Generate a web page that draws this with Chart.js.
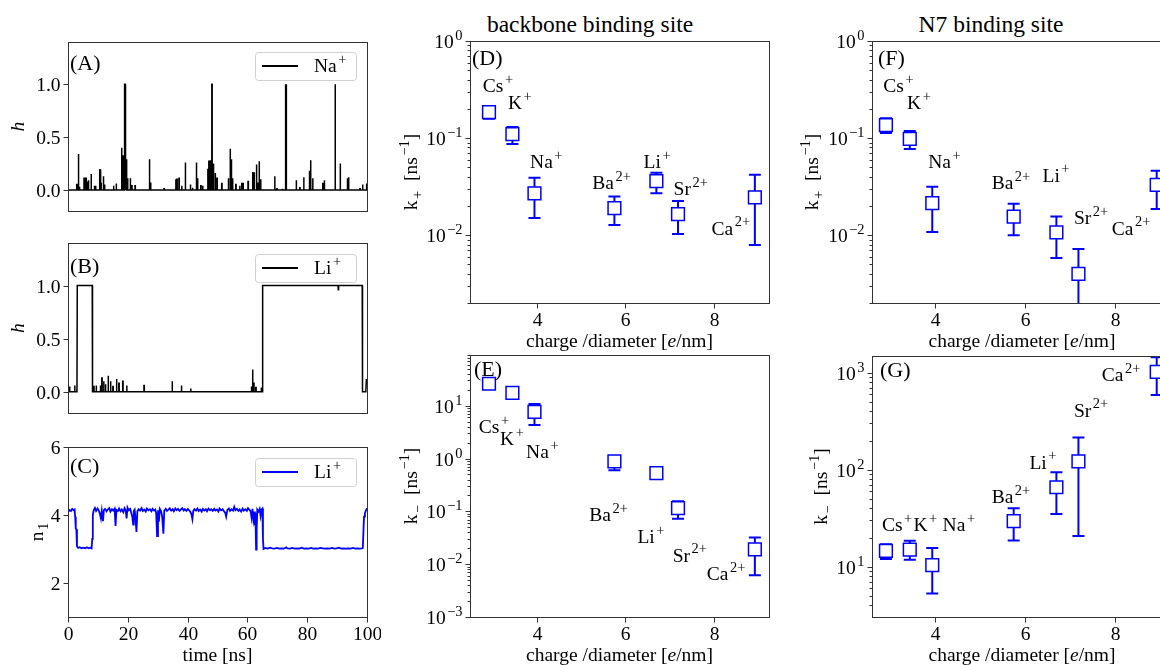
<!DOCTYPE html>
<html>
<head>
<meta charset="utf-8">
<title>ion binding kinetics</title>
<script src="https://cdn.jsdelivr.net/npm/chart.js@4.4.1/dist/chart.umd.min.js"></script>
<style>
  html, body { margin: 0; padding: 0; background: #fff; }
  body { position: relative; width: 1160px; height: 665px; overflow: hidden; }
  canvas { position: absolute; }
  .coltitle { position: absolute; transform: translate(-50%, -50%); font: 23.5px "Liberation Serif", "DejaVu Serif", serif; color: #000; white-space: nowrap; }
</style>
</head>
<body>
<div class="coltitle" style="left:590px;top:24px">backbone binding site</div>
<div class="coltitle" style="left:991px;top:24px">N7 binding site</div>
<script>
// ions, in the order they sit along the x axis
const ionNames = ['Cs', 'K', 'Na', 'Ba', 'Li', 'Sr', 'Ca'];
const ionCharges = ['+', '+', '+', '2+', '+', '2+', '2+'];
const chargePerDiameter = [2.91, 3.44, 3.94, 5.75, 6.70, 7.19, 8.93];

// backbone binding site, rates in 1/ns
const kOnBackbone   = [0.185, 0.11, 0.027, 0.019, 0.036, 0.0165, 0.0245];
const kOnBackboneLo = [0.158, 0.087, 0.015, 0.0127, 0.027, 0.0103, 0.0079];
const kOnBackboneHi = [0.205, 0.13, 0.039, 0.025, 0.044, 0.0225, 0.042];
const kOffBackbone   = [26, 17.5, 7.6, 0.88, 0.53, 0.115, 0.019];
const kOffBackboneLo = [25, 16.5, 4.3, 0.6, 0.51, 0.072, 0.0062];
const kOffBackboneHi = [27, 18.5, 10.8, 1.0, 0.55, 0.155, 0.032];

// N7 binding site
const kOnN7   = [0.136, 0.098, 0.0214, 0.0155, 0.0107, 0.004, 0.033];
const kOnN7Lo = [0.113, 0.077, 0.0108, 0.010, 0.0058, 0.001, 0.0186];
const kOnN7Hi = [0.16, 0.118, 0.0316, 0.021, 0.0156, 0.0072, 0.046];
const kOffN7   = [14.6, 15, 10.4, 29.5, 66, 122, 1020];
const kOffN7Lo = [12, 11.8, 5.3, 18.6, 35, 20.8, 590];
const kOffN7Hi = [17, 18.5, 15.6, 40, 94, 215, 1450];

// where the ion names are written, in data units of each panel
const nameXD = [2.77, 3.34, 3.84, 5.25, 6.41, 7.09, 7.95];
const nameYD = [0.35, 0.23, 0.057, 0.035, 0.057, 0.030, 0.0118];
const nameXE = [2.68, 3.16, 3.75, 5.18, 6.27, 7.07, 7.84];
const nameYE = [4.0, 2.4, 1.37, 0.087, 0.0333, 0.0148, 0.0066];
const nameXF = [2.85, 3.38, 3.85, 5.26, 6.39, 7.09, 7.93];
const nameYF = [0.35, 0.23, 0.057, 0.035, 0.0415, 0.015, 0.0118];
const nameXG = [2.82, 3.52, 4.17, 5.26, 6.10, 7.09, 7.71];
const nameYG = [26.9, 26.9, 26.9, 52.9, 120, 412, 948];

// (A) Na+ occupancy h: spikes as [time ns, h]
const naSpikes = [[2.9,0.05],[3.45,0.34],[3.8,0.03],[5.35,0.11],[5.7,0.1],[6.0,0.11],[6.4,0.08],[6.8,0.09],
  [7.7,0.15],[8.8,0.04],[9.2,0.04],[10.6,0.19],[11.0,0.06],[11.8,0.13],[12.2,0.05],[15.2,0.04],[16.1,0.06],
  [17.9,0.40],[18.3,0.32],[18.8,1.0],[19.0,1.0],[19.3,0.10],[19.6,0.29],[19.9,0.11],[20.8,0.11],[21.3,0.04],
  [22.4,0.04],[27.2,0.29],[27.6,0.07],[32.1,0.01],[36.0,0.10],[36.4,0.1],[37.1,0.11],[38.0,0.04],[39.2,0.26],
  [40.9,0.05],[41.6,0.02],[42.9,0.26],[43.3,0.11],[44.4,0.04],[45.0,0.04],[46.7,0.20],[47.1,0.27],[47.6,0.28],
  [48.1,1.0],[48.6,0.25],[49.2,0.16],[49.8,0.11],[51.4,0.06],[53.6,0.11],[54.2,0.39],[54.6,0.29],[55.0,0.11],
  [56.1,0.05],[57.4,0.04],[58.1,0.06],[58.5,0.06],[60.2,0.08],[61.7,0.17],[62.2,0.16],[63.0,0.24],[63.4,0.07],
  [63.9,0.27],[64.4,0.1],[69.1,0.13],[69.8,0.01],[71.7,0.01],[72.7,1.0],[72.95,1.0],[76.3,0.09],[77.5,0.02],
  [78.8,0.12],[80.7,0.18],[81.1,0.28],[81.8,0.11],[85.2,0.06],[85.7,0.09],[89.3,1.0],[91.0,0.25],[93.4,0.11],
  [93.8,0.12],[97.6,0.01],[98.5,0.05],[99.8,0.06]];

// (B) Li+ occupancy h: short spikes plus the two bound stretches
const liSpikes = [[0.5,0.05],[2.2,0.06],[8.6,0.05],[9.4,0.06],[10.8,0.06],[11.3,0.13],[11.9,0.1],[12.5,0.07],
  [13.4,0.15],[14.2,0.1],[15.0,0.05],[16.2,0.12],[17.0,0.08],[18.3,0.1],[19.6,0.06],[25.4,0.06],[34.8,0.1],
  [37.9,0.06],[41.0,0.03],[61.3,0.05],[61.7,0.21],[62.1,0.08],[62.8,0.04],[64.6,0.04]];
const liBound = [[3.0,0],[3.1,1],[8.1,1],[8.2,0],[65.0,0],[65.1,1],[90.3,1],[90.4,0.96],[90.5,1],[98.4,1],
  [98.5,0],[99.6,0],[99.8,0.12],[100,0.08]];

// (C) Li+ first-shell count n1: [time ns, n1]
const liShell = [[0,4.08],[0.5,4.15],[1.0,4.12],[1.4,4.18],[1.9,4.14],[2.2,4.16],[2.4,3.95],[2.6,3.6],[2.8,3.58],
  [3.0,3.08],[3.4,3.03],[3.9,3.05],[4.5,3.02],[5.1,3.04],[5.7,3.02],[6.3,3.05],[6.9,3.02],[7.5,3.04],[7.9,3.02],
  [8.1,3.3],[8.3,4.0],[8.6,4.14],[9.0,4.21],[9.4,4.12],[9.9,4.19],[10.3,4.13],[10.7,4.02],[11.0,3.9],[11.3,4.12],
  [11.7,3.82],[12.0,4.14],[12.4,4.18],[12.9,4.11],[13.3,4.16],[13.8,4.2],[14.2,4.1],[14.7,4.17],[15.1,4.13],
  [15.6,4.19],[15.9,3.68],[16.2,4.15],[16.7,4.12],[17.1,4.19],[17.6,4.11],[18.0,4.16],[18.5,4.08],[18.9,4.2],
  [19.3,4.13],[19.6,3.9],[19.9,4.22],[20.3,4.14],[20.8,4.18],[21.1,4.08],[21.5,3.95],[21.8,3.72],[22.0,4.12],
  [22.3,4.16],[22.6,3.88],[22.9,3.5],[23.2,4.1],[23.6,4.17],[24.1,4.13],[24.6,4.2],[25.0,4.12],[25.5,4.16],
  [26.0,4.1],[26.4,4.19],[26.9,4.14],[27.4,4.17],[27.9,4.11],[28.3,4.18],[28.8,4.13],[29.2,4.16],[29.5,4.05],
  [29.8,3.38],[30.1,4.14],[30.4,3.8],[30.7,4.18],[31.1,4.12],[31.5,3.95],[31.9,3.45],[32.2,4.13],[32.7,4.18],
  [33.1,4.12],[33.6,4.16],[34.0,4.2],[34.5,4.13],[35.0,4.17],[35.4,4.11],[35.9,4.19],[36.3,4.14],[36.8,4.18],
  [37.3,4.12],[37.7,4.16],[38.2,4.2],[38.7,4.13],[39.1,4.17],[39.6,4.12],[40.1,4.18],[40.5,4.14],[41.0,4.08],
  [41.3,4.02],[41.6,3.88],[41.9,4.12],[42.3,4.17],[42.8,4.13],[43.3,4.19],[43.7,4.12],[44.2,4.16],[44.7,4.1],
  [45.1,4.18],[45.6,4.13],[46.1,4.17],[46.5,4.11],[47.0,4.19],[47.5,4.14],[47.9,4.17],[48.4,4.12],[48.9,4.18],
  [49.3,4.13],[49.8,4.16],[50.3,4.1],[50.7,4.19],[51.2,4.14],[51.7,4.17],[52.1,4.12],[52.6,4.06],[52.9,3.95],
  [53.3,4.15],[53.8,4.19],[54.2,4.12],[54.7,4.17],[55.2,4.13],[55.6,4.24],[56.0,4.14],[56.5,4.18],[57.0,4.12],
  [57.4,4.16],[57.9,4.1],[58.4,4.19],[58.8,4.13],[59.3,4.17],[59.8,4.12],[60.2,4.2],[60.7,4.15],[61.1,4.1],
  [61.4,3.92],[61.7,4.18],[62.0,3.88],[62.3,4.1],[62.5,3.7],[62.7,4.05],[62.9,2.98],[63.1,3.55],[63.3,4.16],
  [63.7,4.1],[64.1,4.18],[64.4,3.98],[64.7,4.16],[65.0,4.19],[65.2,3.3],[65.4,3.0],[66.0,3.03],[66.8,3.01],
  [67.6,3.04],[68.3,3.02],[69.1,3.01],[69.9,3.03],[70.6,3.01],[71.4,3.02],[72.2,3.01],[73.0,3.05],[73.4,3.02],
  [74.2,3.01],[75.0,3.03],[75.8,3.01],[76.6,3.02],[77.4,3.01],[78.1,3.04],[78.9,3.01],[79.7,3.02],[80.5,3.01],
  [81.3,3.03],[82.0,3.01],[82.8,3.02],[83.6,3.01],[84.4,3.03],[85.2,3.02],[86.0,3.01],[86.7,3.02],[87.5,3.01],
  [88.3,3.03],[89.1,3.01],[89.8,3.02],[90.6,3.04],[91.4,3.01],[92.2,3.02],[92.9,3.01],[93.7,3.02],[94.5,3.01],
  [95.3,3.03],[96.1,3.01],[96.8,3.02],[97.6,3.01],[98.3,3.02],[98.6,3.03],[98.8,3.5],[99.0,3.95],[99.3,4.05],
  [99.6,4.12],[100,4.2]];

const FONT = '"Liberation Serif", "DejaVu Serif", serif';
const FS = 19.5;
const BLUE = '#0000ff';
const specs = {};

// each spike becomes a thin pulse on the zero baseline
function pulses(spikes) {
  const pts = [];
  spikes.forEach(([t, h]) => { pts.push([t, 0], [t, h], [t + 0.12, h], [t + 0.12, 0]); });
  return pts;
}
function toXY(pairs) {
  return pairs.slice().sort((a, b) => a[0] - b[0]).map(([x, y]) => ({x, y}));
}

// tiny mathtext: ^{sup} _{sub} $italic$
function richParts(str) {
  const out = [];
  const re = /\^\{([^}]*)\}|_\{([^}]*)\}|\$([^$]*)\$|([^^_$]+)/g;
  let m;
  while ((m = re.exec(str))) {
    if (m[1] !== undefined) out.push({t: m[1], sup: true});
    else if (m[2] !== undefined) out.push({t: m[2], sub: true});
    else if (m[3] !== undefined) out.push({t: m[3], it: true});
    else out.push({t: m[4]});
  }
  return out;
}
function drawRich(ctx, str, x, y, fs, align) {
  const segs = richParts(str).map(p => {
    const small = p.sup || p.sub;
    const size = small ? fs * 0.74 : fs;
    const font = (p.it ? 'italic ' : '') + size.toFixed(1) + 'px ' + FONT;
    ctx.font = font;
    const gap = small ? fs * 0.08 : 0;
    return {t: p.t, font, gap, w: ctx.measureText(p.t).width + gap, dy: p.sup ? -fs * 0.42 : p.sub ? fs * 0.22 : 0};
  });
  const total = segs.reduce((s, g) => s + g.w, 0);
  let cx = align === 'center' ? x - total / 2 : align === 'right' ? x - total : x;
  ctx.textAlign = 'left';
  ctx.textBaseline = 'alphabetic';
  const base = y + fs * 0.33;
  for (const g of segs) { ctx.font = g.font; ctx.fillText(g.t, cx + g.gap, base + g.dy); cx += g.w; }
}

const mplPlugin = {
  id: 'mpl',
  beforeDatasetsDraw(chart) {
    const s = specs[chart.canvas.id];
    if (!s.err) return;
    const {ctx, chartArea: a, scales: {x, y}} = chart;
    ctx.save();
    ctx.beginPath();
    ctx.rect(a.left, a.top, a.right - a.left, a.bottom - a.top);
    ctx.clip();
    ctx.strokeStyle = BLUE;
    ctx.lineWidth = 2;
    chargePerDiameter.forEach((xv, i) => {
      const px = x.getPixelForValue(xv);
      const lo = y.getPixelForValue(s.err.lo[i]);
      const hi = y.getPixelForValue(s.err.hi[i]);
      ctx.beginPath();
      ctx.moveTo(px, lo); ctx.lineTo(px, hi);
      ctx.moveTo(px - 6, lo); ctx.lineTo(px + 6, lo);
      ctx.moveTo(px - 6, hi); ctx.lineTo(px + 6, hi);
      ctx.stroke();
    });
    ctx.restore();
  },
  afterDraw(chart) {
    const s = specs[chart.canvas.id];
    const {ctx, chartArea: a, scales: {x, y}} = chart;
    ctx.save();
    ctx.fillStyle = '#000';

    if (s.names) {
      s.names.x.forEach((lx, i) => {
        drawRich(ctx, ionNames[i] + '^{' + ionCharges[i] + '}', x.getPixelForValue(lx), y.getPixelForValue(s.names.y[i]), FS, 'left');
      });
    }

    if (s.legend) {
      const bx = a.right - 112, by = a.top + s.legend.dy, bw = 101, bh = 28;
      ctx.fillStyle = 'rgba(255,255,255,0.85)';
      ctx.strokeStyle = '#d0d0d0';
      ctx.lineWidth = 1;
      ctx.beginPath();
      ctx.roundRect(bx + 0.5, by + 0.5, bw, bh, 3);
      ctx.fill(); ctx.stroke();
      ctx.strokeStyle = s.legend.color;
      ctx.lineWidth = 2;
      ctx.beginPath();
      ctx.moveTo(bx + 7, by + bh / 2); ctx.lineTo(bx + 43, by + bh / 2);
      ctx.stroke();
      ctx.fillStyle = '#000';
      drawRich(ctx, s.legend.text, bx + 59, by + bh / 2, FS, 'left');
    }

    // frame
    const L = Math.round(a.left) + 0.5, R = Math.round(a.right) + 0.5;
    const T = Math.round(a.top) + 0.5, B = Math.round(a.bottom) + 0.5;
    ctx.strokeStyle = '#333';
    ctx.lineWidth = 1;
    ctx.strokeRect(L, T, R - L, B - T);

    // y ticks
    ctx.beginPath();
    if (s.yLog) {
      const e0 = Math.floor(Math.log10(y.min)), e1 = Math.ceil(Math.log10(y.max));
      for (let e = e0; e <= e1; e++) {
        for (let m = 1; m < 10; m++) {
          const v = m * Math.pow(10, e);
          if (v < y.min * 0.995 || v > y.max * 1.005) continue;
          const py = Math.round(y.getPixelForValue(v)) + 0.5;
          const len = m === 1 ? 5 : 3;
          ctx.moveTo(L - len, py); ctx.lineTo(L, py);
          if (m === 1) drawRich(ctx, '10^{' + (e < 0 ? '\u2212' + (-e) : e) + '}', L - 8, py, FS, 'right');
        }
      }
    } else {
      s.yTicks.forEach(v => {
        const py = Math.round(y.getPixelForValue(v)) + 0.5;
        ctx.moveTo(L - 5, py); ctx.lineTo(L, py);
        drawRich(ctx, v.toFixed(s.yDigits), L - 8, py, FS, 'right');
      });
    }
    // x ticks
    s.xTicks.forEach(v => {
      const px = Math.round(x.getPixelForValue(v)) + 0.5;
      ctx.moveTo(px, B); ctx.lineTo(px, B + 5);
      if (s.xLabels) drawRich(ctx, String(v), px, B + 16, FS, 'center');
    });
    ctx.stroke();

    if (s.xTitle) drawRich(ctx, s.xTitle, (a.left + a.right) / 2, a.bottom + 38, FS, 'center');
    ctx.save();
    ctx.translate(a.left + s.yTitleDx, (a.top + a.bottom) / 2);
    ctx.rotate(-Math.PI / 2);
    drawRich(ctx, s.yTitle, 0, 0, FS, 'center');
    ctx.restore();

    drawRich(ctx, s.tag, a.left + s.tagAt[0], a.top + s.tagAt[1], 22, 'left');
    ctx.restore();
  }
};

function makePanel(id, area, padL, spec, datasets, xRange, yRange, yLog) {
  const padT = 14, padR = 14, padB = 60;
  const c = document.createElement('canvas');
  c.id = id;
  c.width = area.r - area.l + padL + padR;
  c.height = area.b - area.t + padT + padB;
  c.style.left = (area.l - padL) + 'px';
  c.style.top = (area.t - padT) + 'px';
  document.body.appendChild(c);
  specs[id] = spec;
  spec.yLog = yLog;
  new Chart(c, {
    type: 'scatter',
    data: {datasets},
    options: {
      responsive: false,
      animation: false,
      events: [],
      layout: {padding: {left: padL, top: padT, right: padR, bottom: padB}},
      scales: {
        x: {type: 'linear', min: xRange[0], max: xRange[1], display: false},
        y: {type: yLog ? 'logarithmic' : 'linear', min: yRange[0], max: yRange[1], display: false}
      },
      plugins: {legend: {display: false}, tooltip: {enabled: false}}
    },
    plugins: [mplPlugin]
  });
}

function traceSet(points, color, width) {
  return [{data: points, showLine: true, borderColor: color, borderWidth: width, pointRadius: 0, tension: 0, clip: 0}];
}
function rateSet(values) {
  return [{
    data: chargePerDiameter.map((x, i) => ({x, y: values[i]})),
    pointStyle: 'rect', pointRadius: 9, borderColor: BLUE, backgroundColor: '#fff', borderWidth: 1.5
  }];
}

const timeTicks = [0, 20, 40, 60, 80, 100];
const rateTicks = [4, 6, 8];
const kPlus = 'k_{+}  [ns^{\u22121}]';
const kMinus = 'k_{\u2212}  [ns^{\u22121}]';
const cdTitle = 'charge /diameter [$e$/nm]';

makePanel('A', {l: 68, r: 367, t: 42, b: 211}, 68,
  {tag: '(A)', tagAt: [2, 21], yTicks: [0, 0.5, 1.0], yDigits: 1, xTicks: [], yTitle: '$h$', yTitleDx: -50,
   legend: {text: 'Na^{+}', color: '#000', dy: 10}},
  traceSet(toXY([[0, 0]].concat(pulses(naSpikes), [[100, 0.06]])), '#000', 1.5), [0, 100], [-0.2, 1.4], false);

makePanel('B', {l: 68, r: 367, t: 243, b: 413}, 68,
  {tag: '(B)', tagAt: [2, 23], yTicks: [0, 0.5, 1.0], yDigits: 1, xTicks: [], yTitle: '$h$', yTitleDx: -50,
   legend: {text: 'Li^{+}', color: '#000', dy: 11}},
  traceSet(toXY([[0, 0]].concat(pulses(liSpikes), liBound)), '#000', 1.5), [0, 100], [-0.2, 1.4], false);

makePanel('C', {l: 68, r: 367, t: 447, b: 617}, 68,
  {tag: '(C)', tagAt: [2, 19], yTicks: [2, 4, 6], yDigits: 0, xTicks: timeTicks, xLabels: true,
   xTitle: 'time [ns]', yTitle: 'n_{1}', yTitleDx: -31, legend: {text: 'Li^{+}', color: BLUE, dy: 11}},
  traceSet(toXY(liShell), BLUE, 1.8), [0, 100], [1, 6], false);

makePanel('D', {l: 470, r: 769, t: 41, b: 303}, 80,
  {tag: '(D)', tagAt: [2, 17], xTicks: rateTicks, xLabels: true, xTitle: cdTitle, yTitle: kPlus, yTitleDx: -59,
   err: {lo: kOnBackboneLo, hi: kOnBackboneHi}, names: {x: nameXD, y: nameYD}},
  rateSet(kOnBackbone), [2.48, 9.25], [0.002, 1], true);

makePanel('E', {l: 470, r: 769, t: 355, b: 617}, 80,
  {tag: '(E)', tagAt: [4, 14], xTicks: rateTicks, xLabels: true, xTitle: cdTitle, yTitle: kMinus, yTitleDx: -59,
   err: {lo: kOffBackboneLo, hi: kOffBackboneHi}, names: {x: nameXE, y: nameYE}},
  rateSet(kOffBackbone), [2.48, 9.25], [0.001, 91], true);

makePanel('F', {l: 872, r: 1172, t: 41, b: 303}, 80,
  {tag: '(F)', tagAt: [6, 17], xTicks: rateTicks, xLabels: true, xTitle: cdTitle, yTitle: kPlus, yTitleDx: -60,
   err: {lo: kOnN7Lo, hi: kOnN7Hi}, names: {x: nameXF, y: nameYF}},
  rateSet(kOnN7), [2.6, 9.27], [0.002, 1], true);

makePanel('G', {l: 872, r: 1172, t: 356, b: 617}, 80,
  {tag: '(G)', tagAt: [8, 14], xTicks: rateTicks, xLabels: true, xTitle: cdTitle, yTitle: kMinus, yTitleDx: -51,
   err: {lo: kOffN7Lo, hi: kOffN7Hi}, names: {x: nameXG, y: nameYG}},
  rateSet(kOffN7), [2.6, 9.27], [3.03, 1490], true);
</script>
</body>
</html>
